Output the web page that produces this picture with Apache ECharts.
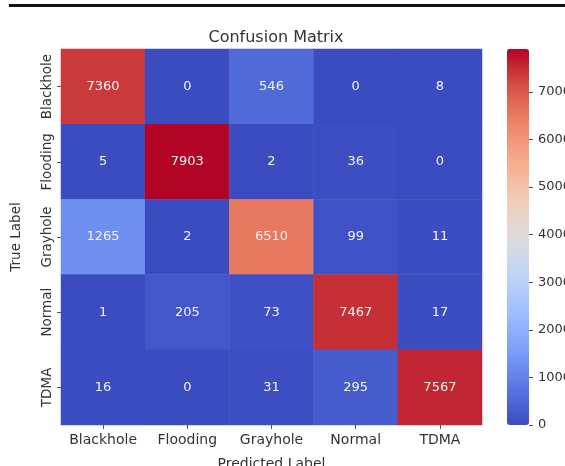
<!DOCTYPE html>
<html>
<head>
<meta charset="utf-8">
<script src="https://cdn.jsdelivr.net/npm/echarts@6/dist/echarts.min.js"></script>
<style>
  html, body { margin: 0; padding: 0; background: #fff; }
  #chart { width: 565px; height: 466px; }
</style>
</head>
<body>
<div id="chart"></div>
<script>
// Class labels (predicted along x, true along y)
const predictedLabels = ['Blackhole', 'Flooding', 'Grayhole', 'Normal', 'TDMA'];
const trueLabels = ['Blackhole', 'Flooding', 'Grayhole', 'Normal', 'TDMA'];

// Counts per true class (rows), one value per predicted class
const rowBlackhole = [7360, 0, 546, 0, 8];
const rowFlooding  = [5, 7903, 2, 36, 0];
const rowGrayhole  = [1265, 2, 6510, 99, 11];
const rowNormal    = [1, 205, 73, 7467, 17];
const rowTDMA      = [16, 0, 31, 295, 7567];

const matrixRows = [rowBlackhole, rowFlooding, rowGrayhole, rowNormal, rowTDMA];

// Colour bar range and ticks
const colorMin = 0;
const colorMax = 7903;
const colorTickStep = 1000;

// Diverging blue-white-red palette
const coolwarm = ['#3b4cc0', '#5977e3', '#7b9ff9', '#9ebeff', '#c0d4f5', '#dddcdc',
                  '#f2cbb7', '#f7ac8e', '#ee8468', '#d65244', '#b40426'];

const cells = [];
matrixRows.forEach((row, r) => {
  row.forEach((v, c) => cells.push([c, r, v]));
});

const font = 'DejaVu Sans';
const chart = echarts.init(document.getElementById('chart'));
chart.setOption({
  backgroundColor: '#ffffff',
  animation: false,
  title: {
    text: 'Confusion Matrix',
    left: 271, top: 25, textAlign: 'center',
    textStyle: { fontFamily: font, fontSize: 16, fontWeight: 'normal', color: '#333' }
  },
  graphic: [{
    type: 'rect', shape: { x: 9, y: 4, width: 556, height: 3 },
    style: { fill: '#111' }
  }],
  grid: [
    { left: 61, top: 49, width: 421, height: 376, outerBoundsMode: 'none', containLabel: false },
    { left: 507, top: 49, width: 22, height: 376, outerBoundsMode: 'none', containLabel: false }
  ],
  xAxis: [{
    type: 'category', data: predictedLabels, gridIndex: 0,
    name: 'Predicted Label', nameLocation: 'middle', nameGap: 32,
    nameTextStyle: { fontFamily: font, fontSize: 14, color: '#333' },
    axisLine: { show: false },
    axisTick: { show: true, alignWithLabel: true, length: 4, lineStyle: { color: '#555' } },
    axisLabel: { fontFamily: font, fontSize: 14, color: '#333', margin: 8, interval: 0 },
    splitLine: { show: false }
  }, {
    type: 'value', gridIndex: 1, show: false,
    axisLine: { show: false }, axisTick: { show: false },
    axisLabel: { show: false }, splitLine: { show: false }
  }],
  yAxis: [{
    type: 'category', data: trueLabels, gridIndex: 0, inverse: true,
    name: 'True Label', nameLocation: 'middle', nameGap: 38,
    nameTextStyle: { fontFamily: font, fontSize: 13.5, color: '#333' },
    axisLine: { show: false },
    axisTick: { show: true, alignWithLabel: true, length: 4, lineStyle: { color: '#555' } },
    axisLabel: { fontFamily: font, fontSize: 13.5, color: '#333', rotate: 90, margin: 7, interval: 0 },
    splitLine: { show: false }
  }, {
    type: 'value', gridIndex: 1, position: 'right',
    min: colorMin, max: colorMax, interval: colorTickStep,
    axisLine: { show: false, onZero: false },
    axisTick: { show: true, length: 4, lineStyle: { color: '#555' } },
    axisLabel: { fontFamily: font, fontSize: 13, color: '#333', margin: 9,
                 showMaxLabel: false, formatter: v => String(v) },
    splitLine: { show: false }
  }],
  visualMap: {
    type: 'continuous', min: colorMin, max: colorMax, seriesIndex: 0,
    left: 507, top: 49, itemWidth: 22, itemHeight: 376, padding: 0,
    calculable: false, hoverLink: false, realtime: false,
    showLabel: false, indicatorSize: 0,
    indicatorStyle: { opacity: 0 }, handleStyle: { opacity: 0 },
    inRange: { color: coolwarm }
  },
  series: [{
    type: 'heatmap', xAxisIndex: 0, yAxisIndex: 0,
    data: cells,
    label: {
      show: true, fontFamily: font, fontSize: 13, color: '#f4f4f4',
      formatter: p => String(p.value[2])
    },
    itemStyle: { borderWidth: 0 },
    emphasis: { disabled: true }
  }]
});
</script>
</body>
</html>
